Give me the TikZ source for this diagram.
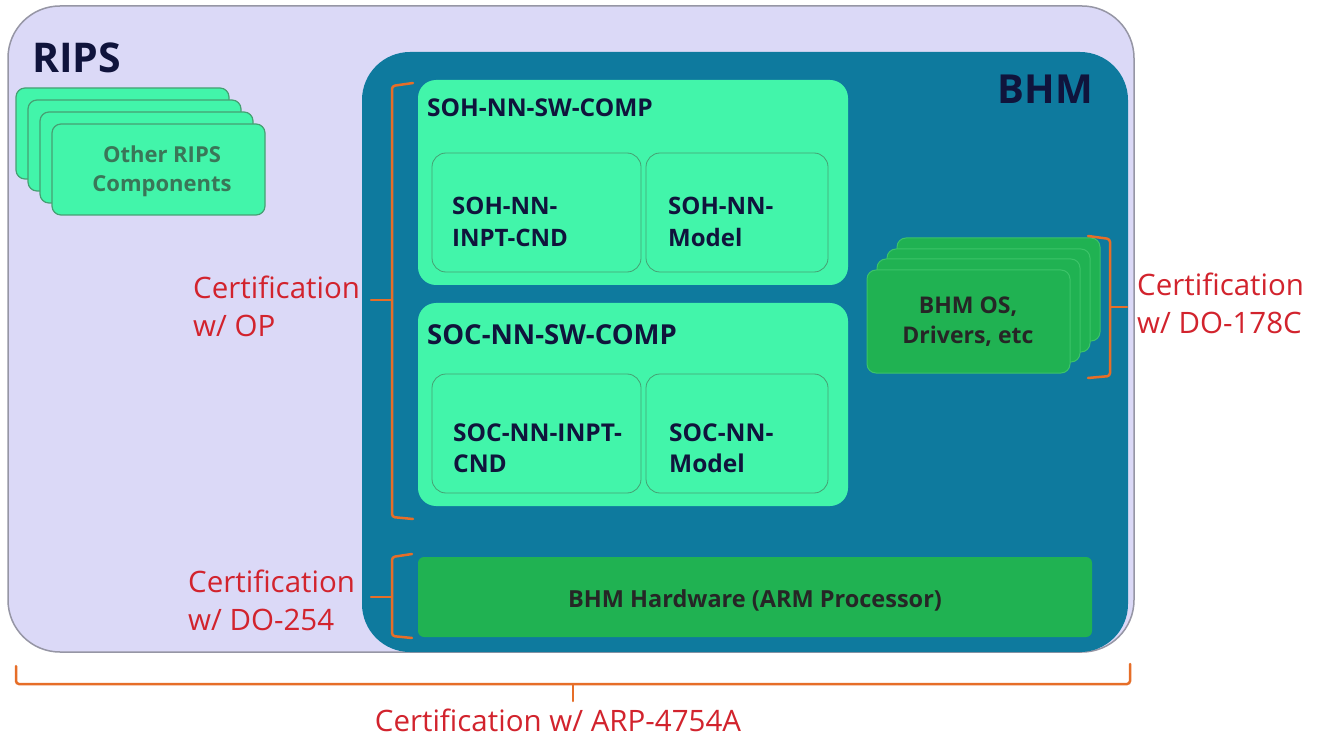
\documentclass[tikz,border=0pt]{standalone}
\usepackage{fontspec}
\setmainfont{Open Sans}
\definecolor{lav}{RGB}{219,217,247}
\definecolor{lavedge}{RGB}{150,150,165}
\definecolor{teal}{RGB}{14,122,158}
\definecolor{mint}{RGB}{66,245,170}
\definecolor{mintedge}{RGB}{70,160,115}
\definecolor{gr}{RGB}{32,178,82}
\definecolor{gredge}{RGB}{60,195,105}
\definecolor{navy}{RGB}{16,20,60}
\definecolor{redtxt}{RGB}{210,35,45}
\definecolor{brk}{RGB}{230,110,40}
\definecolor{othertxt}{RGB}{58,118,88}
\tikzset{
  box/.style={anchor=north west, inner sep=0pt, outer sep=0pt},
  ripsbox/.style={box, fill=lav, draw=lavedge, line width=1.5pt, rounded corners=52pt},
  bhmbox/.style={box, fill=teal, rounded corners=48pt},
  compbox/.style={box, fill=mint, rounded corners=18pt},
  subbox/.style={box, fill=mint, draw=mintedge, line width=0.8pt, rounded corners=14pt},
  otherbox/.style={box, fill=mint, draw=mintedge, line width=1.2pt, rounded corners=9pt, minimum width=213pt, minimum height=91pt},
  osbox/.style={box, fill=gr, draw=gredge, line width=1pt, rounded corners=9pt, minimum width=203pt, minimum height=103pt},
  hwbox/.style={box, fill=gr, rounded corners=6pt},
  lbl/.style={font=\fontsize{24}{32}\selectfont\bfseries, text=navy, align=left, inner sep=0pt},
  cert/.style={font=\fontsize{29.5}{38}\selectfont, text=redtxt, align=left, inner sep=0pt},
  bracket/.style={draw=brk, line width=2.5pt, rounded corners=3pt, line cap=round},
}
\begin{document}
\begin{tikzpicture}[x=1pt, y=-1pt]
\useasboundingbox[fill=white] (0,0) rectangle (1326,738);
% RIPS
\node[ripsbox, minimum width=1126pt, minimum height=646pt] (rips) at (8,6) {};
\node[font=\fontsize{41}{41}\selectfont\bfseries, text=navy, anchor=base west, inner sep=0pt] (ripst) at (32,73) {RIPS};
% other RIPS components stack
\node[otherbox] (o1) at (16,88) {};
\node[otherbox] (o2) at (28,100) {};
\node[otherbox] (o3) at (40,112) {};
\node[otherbox] (o4) at (52,124) {};
\node[font=\fontsize{22}{29}\selectfont\bfseries, text=othertxt, align=center, inner sep=0pt] (ot) at (162,171) {Other RIPS\\Components};
% BHM
\node[bhmbox, minimum width=766pt, minimum height=600pt] (bhm) at (362,52) {};
\node[font=\fontsize{40}{40}\selectfont\bfseries, text=navy, anchor=base east, inner sep=0pt] (bhmt) at (1093,104) {BHM};
% SOH
\node[compbox, minimum width=430pt, minimum height=205pt] (soh) at (418,80) {};
\node[lbl, anchor=base west, font=\fontsize{24.5}{32}\selectfont\bfseries] (soht) at (427,117) {SOH-NN-SW-COMP};
\node[subbox, minimum width=209pt, minimum height=119pt] (sohin) at (432,153) {};
\node[subbox, minimum width=182pt, minimum height=119pt] (sohm) at (646,153) {};
\node[lbl, anchor=west] (sohint) at (452,222) {SOH-NN-\\INPT-CND};
\node[lbl, anchor=west] (sohmt) at (668,222) {SOH-NN-\\Model};
% SOC
\node[compbox, minimum width=430pt, minimum height=203pt] (soc) at (418,303) {};
\node[lbl, anchor=base west, font=\fontsize{27.5}{32}\selectfont\bfseries] (soct) at (427,344) {SOC-NN-SW-COMP};
\node[subbox, minimum width=209pt, minimum height=119pt] (socin) at (432,374) {};
\node[subbox, minimum width=182pt, minimum height=119pt] (socm) at (646,374) {};
\node[lbl, anchor=west, font=\fontsize{24.5}{31}\selectfont\bfseries] (socint) at (453,448) {SOC-NN-INPT-\\CND};
\node[lbl, anchor=west, font=\fontsize{24.5}{31}\selectfont\bfseries] (socmt) at (669,448) {SOC-NN-\\Model};
% BHM OS stack
\node[osbox] (os4) at (897,238) {};
\node[osbox] (os3) at (887,249) {};
\node[osbox] (os2) at (877,259) {};
\node[osbox] (os1) at (867,270) {};
\node[lbl, align=center, font=\fontsize{23}{30}\selectfont\bfseries, text=black!85] (ost) at (968,322) {BHM OS,\\Drivers, etc};
% Hardware
\node[hwbox, minimum width=674pt, minimum height=80pt] (hw) at (418,557) {};
\node[lbl, font=\fontsize{23.5}{23.5}\selectfont\bfseries, text=black!85] (hwt) at (755,600) {BHM Hardware (ARM Processor)};
% Brackets
\draw[bracket] (413,83) -- (392,86) -- (392,517) -- (413,519);
\draw[bracket] (392,300) -- (371,300);
\draw[bracket] (412,554) -- (392,557) -- (392,636) -- (412,638);
\draw[bracket] (392,597) -- (371,597);
\draw[bracket] (1088,236) -- (1110,239) -- (1110,376) -- (1088,378);
\draw[bracket] (1110,307) -- (1127,307);
\draw[bracket] (16,666) -- (16,684) -- (1130,684) -- (1130,664);
\draw[bracket] (573,684) -- (573,701);
% certification labels
\node[cert, anchor=west] (cop) at (193,306) {Certification\\w/ OP};
\node[cert, anchor=west] (c254) at (188,600) {Certification\\w/ DO-254};
\node[cert, anchor=west] (c178) at (1137,303) {Certification\\w/ DO-178C};
\node[cert, anchor=base] (carp) at (558,731) {Certification w/ ARP-4754A};
\end{tikzpicture}
\end{document}
